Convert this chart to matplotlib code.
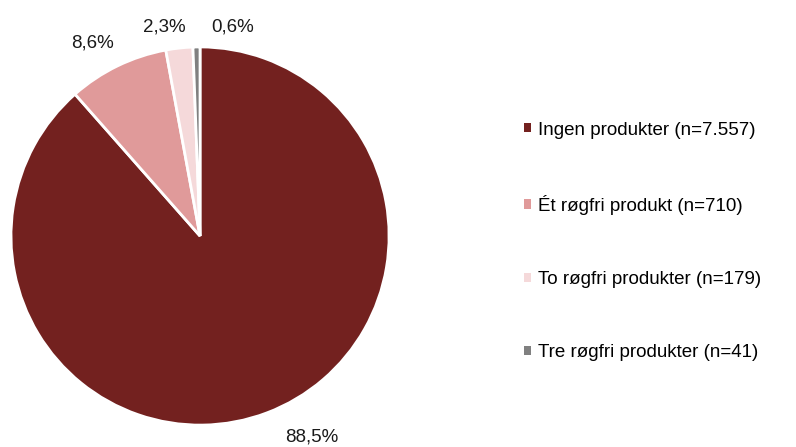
import matplotlib
matplotlib.use("Agg")
import matplotlib.pyplot as plt
from matplotlib.patches import Patch

plt.rcParams['font.family'] = ['Liberation Sans', 'DejaVu Sans']

# data
labels = ['Ingen produkter (n=7.557)', 'Ét røgfri produkt (n=710)',
          'To røgfri produkter (n=179)', 'Tre røgfri produkter (n=41)']
shares = [88.5, 8.6, 2.3, 0.6]
pct_text = ['88,5%', '8,6%', '2,3%', '0,6%']
colors = ['#73211F', '#E09A9A', '#F5D9DA', '#808080']

# label positions in pie units (radius = 1), as Excel's best fit places them
label_pos = [(0.59, -1.065), (-0.57, 1.02), (-0.19, 1.105), (0.175, 1.105)]

fig = plt.figure(figsize=(7.96, 4.47), dpi=100)
ax = fig.add_axes([0.0138, 0.049, 0.475, 0.846])

wedges, _ = ax.pie(shares, colors=colors, startangle=90, counterclock=False,
                   wedgeprops=dict(edgecolor='white', linewidth=2))
ax.set_xlim(-1, 1)
ax.set_ylim(-1, 1)
ax.set_aspect('auto')

for txt, (x, y) in zip(pct_text, label_pos):
    ax.text(x, y, txt, ha='center', va='center', fontsize=13.5, color='#1a1a1a',
            clip_on=False)

# legend squares without the white wedge edge
handles = [Patch(facecolor=c, edgecolor='none') for c in colors]
fig.legend(handles, labels, loc='center left', bbox_to_anchor=(0.658, 0.46),
           frameon=False, fontsize=13.5, handlelength=0.38, handleheight=0.38,
           handletextpad=0.4, labelspacing=3.0, borderpad=0, borderaxespad=0)

fig.savefig('out.png', dpi=100)
